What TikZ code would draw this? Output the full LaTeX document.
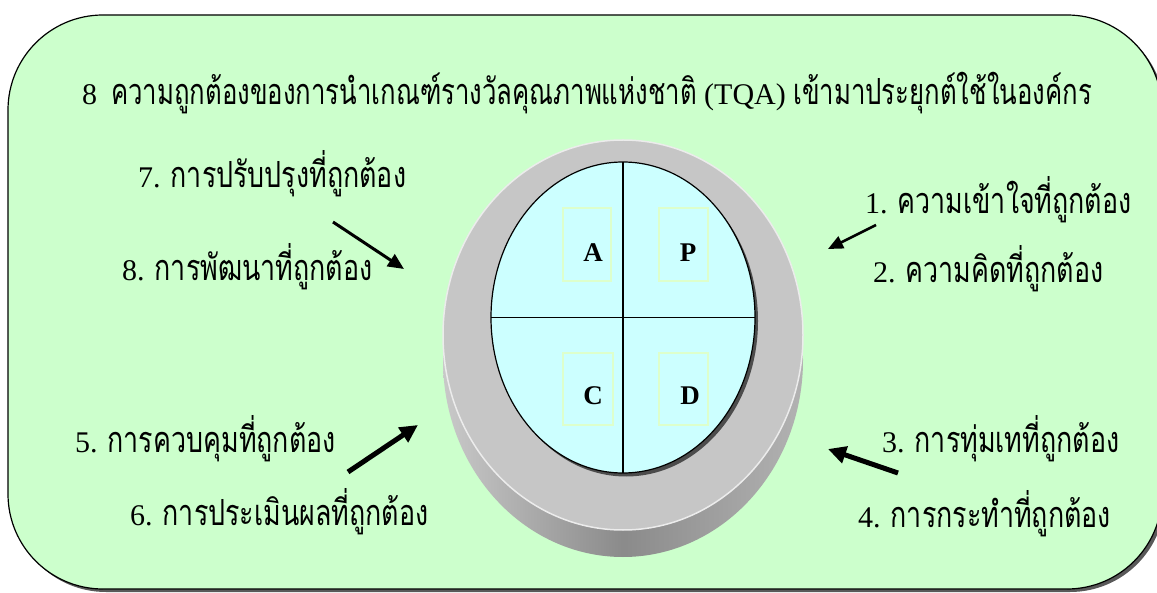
\documentclass[tikz,border=0pt]{standalone}
\usepackage{fontspec}
\setmainfont{Liberation Serif}
\newfontfamily\thaifont[Script=Thai,Scale=1.2,FakeStretch=0.745]{Loma}
\newfontfamily\thaititle[Script=Thai,Scale=1.2,FakeStretch=0.715]{Loma}
\usetikzlibrary{arrows.meta}
\definecolor{bggreen}{HTML}{CCFFCC}
\definecolor{cyanfill}{HTML}{CCFFFF}
\definecolor{rimgray}{HTML}{C6C6C6}
\definecolor{boxgreen}{HTML}{DDFFCC}
\tikzset{
  lbl/.style={font=\fontsize{30}{36}\selectfont, inner sep=0pt, anchor=base west},
  letter/.style={font=\fontsize{27}{30}\selectfont\bfseries, inner sep=0pt},
  lbox/.style={draw=boxgreen, line width=1.2pt},
  arr/.style={-{Triangle[length=16pt,width=14pt]}, line width=3pt},
  bigarr/.style={-{Triangle[length=18pt,width=17pt]}, line width=5pt},
}
\begin{document}
\begin{tikzpicture}[x=1pt,y=-1pt]
\useasboundingbox (0,0) rectangle (1157,593);
% background panel with shadow
\fill[gray!70!black, rounded corners=95pt] (11,18) rectangle (1165,592);
\draw[fill=bggreen, line width=1.2pt, rounded corners=95pt] (8,15) rectangle (1162,589);
% cylinder
\shade[left color=rimgray!95!white, right color=rimgray!90!black, middle color=rimgray!70!black] (623,360) ellipse [x radius=180, y radius=197];
\fill[rimgray] (623,335) ellipse [x radius=180, y radius=195];
\draw[white!85!gray, line width=1.5pt] (623,335) ellipse [x radius=180, y radius=195];
% inner face
\fill[gray!60!black] (626,321) ellipse [x radius=132, y radius=155.5];
\draw[fill=cyanfill, line width=1.2pt] (623,317.5) ellipse [x radius=132, y radius=155.5];
\coordinate (ctop) at (623,162);
\coordinate (cbot) at (623,473);
\coordinate (cleft) at (491,317.5);
\coordinate (cright) at (755,317.5);
\draw[line width=1.2pt] (ctop) -- (cbot);
\draw[line width=1.2pt] (cleft) -- (cright);
% letter boxes
\draw[lbox] (563,208) rectangle (611,281);
\draw[lbox] (659,208) rectangle (708,281);
\draw[lbox] (563,353) rectangle (613,425);
\draw[lbox] (659,353) rectangle (708,425);
\node[letter] (A) at (593,252.5) {A};
\node[letter] (P) at (688,252.5) {P};
\node[letter] (C) at (593,396) {C};
\node[letter] (D) at (690,396) {D};
% texts
\node[lbl] (title) at (82,105) {8\hspace{14pt}{\thaititle ความถูกต้องของการนำเกณฑ์รางวัลคุณภาพแห่งชาติ} (TQA) {\thaititle เข้ามาประยุกต์ใช้ในองค์กร}};
\node[lbl] (t7) at (138,188) {7. {\thaifont การปรับปรุงที่ถูกต้อง}};
\node[lbl] (t8) at (122,281) {8. {\thaifont การพัฒนาที่ถูกต้อง}};
\node[lbl] (t1) at (865,214) {1. {\thaifont ความเข้าใจที่ถูกต้อง}};
\node[lbl] (t2) at (873,283) {2. {\thaifont ความคิดที่ถูกต้อง}};
\node[lbl] (t5) at (75,453) {5. {\thaifont การควบคุมที่ถูกต้อง}};
\node[lbl] (t6) at (130,525) {6. {\thaifont การประเมินผลที่ถูกต้อง}};
\node[lbl] (t3) at (882,453) {3. {\thaifont การทุ่มเทที่ถูกต้อง}};
\node[lbl] (t4) at (858,527) {4. {\thaifont การกระทำที่ถูกต้อง}};
% arrows
\coordinate (a7s) at (333,222); \coordinate (a7e) at (404,269);
\coordinate (a1s) at (876,225); \coordinate (a1e) at (828,249);
\coordinate (a5s) at (348,472); \coordinate (a5e) at (418,425);
\coordinate (a3s) at (898,473); \coordinate (a3e) at (828,449);
\draw[arr] (a7s) -- (a7e);
\draw[arr, line width=2.5pt, -{Triangle[length=15pt,width=13pt]}] (a1s) -- (a1e);
\draw[bigarr] (a5s) -- (a5e);
\draw[bigarr] (a3s) -- (a3e);
\end{tikzpicture}
\end{document}
